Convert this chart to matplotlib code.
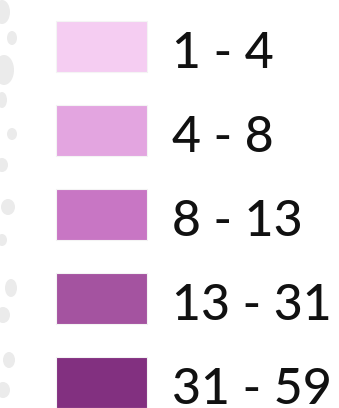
import matplotlib.pyplot as plt
from matplotlib.patches import Rectangle, Ellipse

# Legend classes
labels = ['1 - 4', '4 - 8', '8 - 13', '13 - 31', '31 - 59']
colors = ['#f5cdf2', '#e3a5e0', '#c876c4', '#a453a0', '#823080']

W, H = 339, 408
fig = plt.figure(figsize=(W / 100, H / 100), dpi=100)
ax = fig.add_axes([0, 0, 1, 1])
ax.set_xlim(0, W)
ax.set_ylim(H, 0)
ax.axis('off')

# faint map blobs at the left edge
blobs = [(2, 12, 16, 24), (12, 38, 10, 14), (4, 70, 20, 30), (2, 100, 10, 16),
         (12, 134, 10, 12), (2, 165, 12, 14), (8, 207, 14, 16), (2, 240, 10, 12),
         (11, 288, 12, 18), (3, 315, 14, 16), (9, 360, 12, 16), (3, 390, 14, 16)]
for bx, by, bw, bh in blobs:
    ax.add_patch(Ellipse((bx, by), bw, bh, color='#ebebeb', lw=0, zorder=0))

x0, bw, bh = 56, 91, 51
y0, step = 21, 84
for i, (lab, c) in enumerate(zip(labels, colors)):
    y = y0 + i * step
    ax.add_patch(Rectangle((x0 + 1, y + 1), bw, bh, facecolor='#e4e4e4', lw=0, zorder=1))
    ax.add_patch(Rectangle((x0, y), bw, bh, facecolor=c, edgecolor='#f4f4f4', lw=0.8, zorder=2))
    ax.text(172, y + 47, lab, fontsize=36, family='Lato', weight='medium', color='#111111',
            ha='left', va='baseline', zorder=3)

fig.savefig('out.png', dpi=100, facecolor='white')
